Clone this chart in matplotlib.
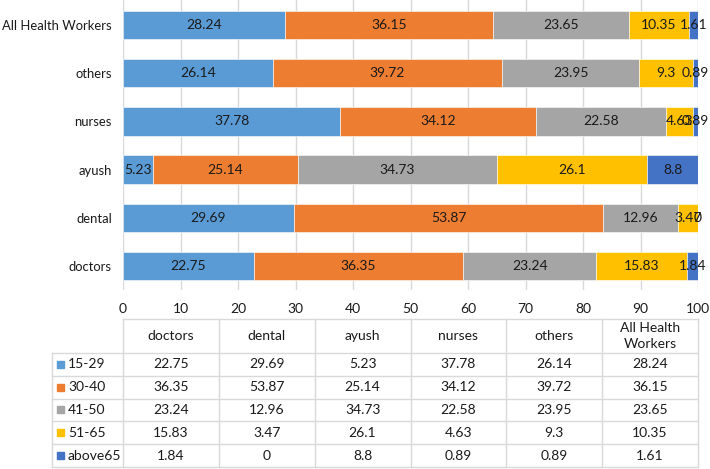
import numpy as np
import matplotlib
matplotlib.use("Agg")
import matplotlib.pyplot as plt
from matplotlib.patches import Rectangle

plt.rcParams['font.family'] = ['Lato', 'DejaVu Sans']

groups = ["doctors", "dental", "ayush", "nurses", "others", "All Health Workers"]
header_labels = ["doctors", "dental", "ayush", "nurses", "others", "All Health\nWorkers"]
age_bands = ["15-29", "30-40", "41-50", "51-65", "above65"]

age_15_29 = [22.75, 29.69, 5.23, 37.78, 26.14, 28.24]
age_30_40 = [36.35, 53.87, 25.14, 34.12, 39.72, 36.15]
age_41_50 = [23.24, 12.96, 34.73, 22.58, 23.95, 23.65]
age_51_65 = [15.83, 3.47, 26.1, 4.63, 9.3, 10.35]
age_above65 = [1.84, 0, 8.8, 0.89, 0.89, 1.61]

series = [age_15_29, age_30_40, age_41_50, age_51_65, age_above65]
colors = ["#5B9BD5", "#ED7D31", "#A5A5A5", "#FFC000", "#4472C4"]

txt_c = "#1a1a1a"
fs = 10

W, H = 710, 469
fig = plt.figure(figsize=(W / 100, H / 100), dpi=100)

# main bar axes (pixel layout measured from reference)
ax_l, ax_r, ax_t, ax_b = 123, 698, 0, 290
ax = fig.add_axes([ax_l / W, 1 - ax_b / H, (ax_r - ax_l) / W, (ax_b - ax_t) / H])

y = np.arange(len(groups))
left = np.zeros(len(groups))
for vals, c in zip(series, colors):
    vals = np.array(vals)
    bars = ax.barh(y, vals, left=left, height=0.59, color=c,
                   edgecolor="white", linewidth=0.4, zorder=2)
    ax.bar_label(bars, fmt="%g", label_type="center", fontsize=fs, color=txt_c)
    left = left + vals

ax.set_xlim(0, 100)
ax.set_ylim(-0.5, 5.52)
ax.set_xticks(np.arange(0, 101, 10))
ax.set_yticks(y)
ax.set_yticklabels(groups)
ax.grid(axis="x", color="#D9D9D9", linewidth=1, zorder=0)
ax.tick_params(axis="both", length=0, labelsize=fs, labelcolor=txt_c)
ax.tick_params(axis="y", pad=8, labelsize=9.4)
ax.tick_params(axis="x", pad=9)
for s in ax.spines.values():
    s.set_visible(False)

# data table below the chart
tab = fig.add_axes([0, 0, 1, 1])
tab.set_xlim(0, W)
tab.set_ylim(H, 0)
tab.axis("off")

line_c = "#D9D9D9"
col_w = (ax_r - ax_l) / len(groups)
leg_l = 52
head_top, head_bot = 319, 353
row_h = 22.8
tab_bot = head_bot + row_h * len(age_bands)

# header row
tab.plot([ax_l, ax_r], [head_top, head_top], color=line_c, lw=1)
for j, lab in enumerate(header_labels):
    cx = ax_l + col_w * (j + 0.5)
    tab.text(cx, (head_top + head_bot) / 2, lab, ha="center", va="center",
             fontsize=fs, color=txt_c, linespacing=1.3)

# horizontal lines of body rows
for i in range(len(age_bands) + 1):
    yy = head_bot + row_h * i
    tab.plot([leg_l, ax_r], [yy, yy], color=line_c, lw=1)

# vertical lines
tab.plot([leg_l, leg_l], [head_bot, tab_bot], color=line_c, lw=1)
for j in range(len(groups) + 1):
    xx = ax_l + col_w * j
    tab.plot([xx, xx], [head_top, tab_bot], color=line_c, lw=1)

# body cells
for i, (band, vals, c) in enumerate(zip(age_bands, series, colors)):
    cy = head_bot + row_h * (i + 0.5)
    tab.add_patch(Rectangle((57, cy - 3.5), 7, 7, color=c))
    tab.text(68, cy, band, ha="left", va="center", fontsize=fs, color=txt_c)
    for j, v in enumerate(vals):
        cx = ax_l + col_w * (j + 0.5)
        tab.text(cx, cy, f"{v:g}", ha="center", va="center", fontsize=fs,
                 color=txt_c)

fig.savefig("out.png", dpi=100)
